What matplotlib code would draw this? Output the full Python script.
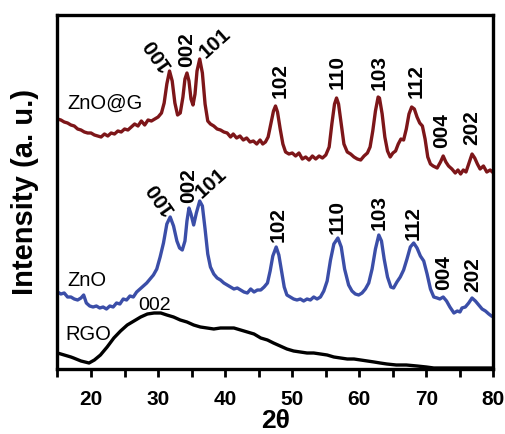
import numpy as np
from matplotlib import pyplot as plt

# 2theta positions and intensities (a.u.)
zng_x = [15.0, 15.5, 16.0, 16.5, 17.0, 17.5, 18.0, 18.5, 19.0, 19.5, 20.0, 20.5, 21.0, 21.5,
         22.0, 22.5, 23.0, 23.5, 24.0, 24.5, 25.0, 25.5, 26.0, 26.5, 27.0, 27.5, 28.0, 28.5,
         29.0, 29.5, 30.0, 30.5, 30.9, 31.3, 31.7, 32.1, 32.5, 32.9, 33.3, 33.7, 34.0, 34.3,
         34.6, 34.9, 35.2, 35.5, 35.8, 36.2, 36.6, 37.0, 37.4, 37.8, 38.3, 38.8, 39.3, 39.8,
         40.3, 40.8, 41.2, 41.7, 42.2, 42.7, 43.2, 43.7, 44.2, 44.7, 45.2, 45.6, 46.0, 46.4,
         46.8, 47.2, 47.5, 47.8, 48.2, 48.6, 49.0, 49.5, 50.0, 50.5, 51.0, 51.5, 52.0, 52.5,
         53.0, 53.5, 54.0, 54.5, 55.0, 55.5, 55.9, 56.3, 56.6, 56.9, 57.3, 57.7, 58.2, 58.7,
         59.2, 59.7, 60.2, 60.7, 61.2, 61.6, 62.0, 62.4, 62.8, 63.0, 63.4, 63.8, 64.2, 64.6,
         65.0, 65.4, 65.8, 66.2, 66.6, 67.0, 67.4, 67.8, 68.2, 68.6, 69.0, 69.4, 69.8, 70.2,
         70.6, 71.0, 71.6, 72.1, 72.5, 72.9, 73.3, 73.8, 74.3, 74.7, 75.1, 75.5, 75.9, 76.3,
         76.8, 77.2, 77.6, 78.0, 78.5, 79.0, 79.5, 80.0]
zng_y = [250, 249, 247, 246, 244, 243, 240, 239, 237, 236, 236, 234, 233, 232,
         235, 233, 236, 235, 238, 237, 240, 239, 242, 245, 243, 248, 244, 249,
         248, 250, 252, 256, 266, 285, 298, 288, 266, 254, 256, 272, 290, 296,
         288, 270, 264, 275, 298, 310, 296, 265, 248, 245, 243, 240, 239, 237,
         236, 232, 235, 231, 233, 229, 231, 227, 228, 225, 229, 225, 227, 232,
         245, 258, 263, 257, 240, 225, 217, 215, 216, 213, 216, 210, 212, 209,
         213, 210, 213, 211, 214, 222, 245, 265, 271, 265, 245, 225, 217, 215,
         212, 210, 209, 213, 216, 222, 238, 258, 272, 271, 255, 232, 218, 212,
         216, 218, 225, 230, 229, 240, 255, 262, 260, 252, 246, 243, 230, 212,
         205, 203, 201, 207, 213, 207, 203, 200, 196, 199, 195, 199, 197, 205,
         215, 211, 205, 200, 203, 197, 199, 196]

zno_x = [15.0, 15.5, 16.0, 16.5, 17.0, 17.5, 18.0, 18.5, 18.9, 19.3, 19.8, 20.3, 20.8, 21.3,
         21.8, 22.3, 22.8, 23.3, 23.8, 24.3, 24.8, 25.3, 25.8, 26.3, 26.8, 27.3, 27.8, 28.3,
         28.8, 29.3, 29.8, 30.3, 30.8, 31.3, 31.8, 32.3, 32.8, 33.2, 33.6, 34.0, 34.3, 34.6,
         34.9, 35.3, 35.7, 36.2, 36.6, 37.0, 37.4, 37.8, 38.3, 38.8, 39.3, 39.8, 40.3, 40.8,
         41.3, 41.8, 42.3, 42.8, 43.3, 43.8, 44.3, 44.8, 45.3, 45.8, 46.3, 46.7, 47.1, 47.6,
         48.0, 48.4, 48.8, 49.2, 49.7, 50.2, 50.7, 51.2, 51.7, 52.2, 52.7, 53.2, 53.7, 54.2,
         54.7, 55.2, 55.7, 56.2, 56.8, 57.3, 57.8, 58.4, 58.9, 59.4, 59.9, 60.4, 60.9, 61.4,
         61.9, 62.4, 62.9, 63.3, 63.7, 64.2, 64.7, 65.1, 65.6, 66.1, 66.6, 67.1, 67.6, 68.1,
         68.6, 69.1, 69.6, 70.1, 70.6, 71.1, 71.6, 72.0, 72.5, 73.0, 73.5, 74.1, 74.6, 75.0,
         75.3, 75.8, 76.3, 76.8, 77.3, 77.8, 78.3, 78.8, 79.3, 79.7, 80.0]
zno_y = [77, 75, 76, 72, 72, 70, 69, 71, 74, 66, 63, 62, 63, 61,
         62, 60, 63, 62, 66, 65, 70, 69, 73, 72, 77, 80, 83, 86,
         90, 94, 100, 112, 126, 145, 152, 143, 128, 121, 119, 128, 148, 161,
         155, 144, 156, 168, 163, 140, 115, 102, 95, 91, 89, 86, 84, 82,
         80, 81, 79, 77, 76, 80, 77, 79, 79, 82, 86, 98, 113, 122,
         114, 98, 82, 74, 72, 70, 69, 70, 68, 70, 69, 72, 70, 72,
         78, 88, 109, 125, 131, 122, 100, 84, 78, 75, 74, 76, 80, 86,
         100, 120, 134, 128, 110, 92, 82, 81, 87, 92, 99, 110, 122, 126,
         121, 113, 108, 95, 80, 72, 71, 70, 72, 68, 62, 56, 58, 57,
         61, 62, 66, 71, 68, 64, 60, 58, 55, 53, 52]

rgo_x = [15.0, 16.0, 17.0, 17.4, 18.5, 19.7, 20.5, 21.4, 22.4, 23.4, 24.4, 25.4, 26.4, 27.4,
         28.4, 29.4, 30.4, 31.3, 32.3, 33.3, 34.3, 35.3, 36.3, 37.3, 38.3, 39.3, 40.3, 41.3,
         42.3, 43.3, 44.3, 45.3, 46.3, 47.2, 48.2, 49.2, 50.2, 51.2, 52.2, 53.2, 54.2, 55.2,
         56.2, 57.2, 58.2, 59.2, 60.2, 61.2, 62.2, 63.1, 64.1, 65.5, 67.0, 68.6, 70.0, 71.1,
         72.5, 73.6, 75.0, 76.5, 78.0, 80.0]
rgo_y = [16, 14, 12, 11, 8, 6, 9, 14, 22, 31, 38, 44, 48, 52,
         55, 56, 56, 54, 52, 49, 47, 44, 42, 41, 40, 41, 41, 41,
         39, 37, 35, 31, 29, 26, 23, 20, 18, 17, 16, 16, 15, 14,
         12, 11, 10, 10, 9, 8, 7, 6, 5, 4, 4, 3, 2, 1,
         1, 1, 1, 1, 1, 1]

# peak labels: (text, 2theta, height, rotation)
zng_peaks = [('100', 29.8, 315, 125), ('002', 34.2, 319, 90), ('101', 38.5, 326, 42),
             ('102', 48.2, 289, 90), ('110', 56.7, 297, 90), ('103', 62.9, 297, 90),
             ('112', 68.4, 288, 90), ('004', 72.3, 238, 90), ('202', 76.8, 241, 90)]
zno_peaks = [('100', 30.3, 171, 125), ('002', 34.5, 183, 90), ('101', 37.9, 186, 42),
             ('102', 47.9, 144, 90), ('110', 56.7, 152, 90), ('103', 62.9, 156, 90),
             ('112', 68.0, 146, 90), ('004', 72.6, 96, 90), ('202', 76.9, 94, 90)]

plt.rcParams['font.family'] = ['Liberation Sans', 'DejaVu Sans']

fig = plt.figure(figsize=(5.06, 4.34), dpi=100)
ax = fig.add_axes([57.5 / 506, 1 - 369 / 434, 436 / 506, 354 / 434])

ax.plot(rgo_x, rgo_y, color='black', lw=2.4)
ax.plot(zno_x, zno_y, color='#3b4ea8', lw=2.4)
ax.plot(zng_x, zng_y, color='#7d1619', lw=2.4)

for txt, x, y, rot in zng_peaks + zno_peaks:
    ax.text(x, y, txt, rotation=rot, rotation_mode='anchor', ha='center', va='center',
            fontsize=15, fontweight='bold')

ax.text(16.4, 266, 'ZnO@G', ha='left', va='center', fontsize=14.5)
ax.text(16.4, 88, 'ZnO', ha='left', va='center', fontsize=14.5)
ax.text(16.1, 34, 'RGO', ha='left', va='center', fontsize=14.5)
ax.text(29.5, 63, '002', ha='center', va='center', fontsize=14)

ax.set_xlim(15, 80)
ax.set_ylim(0, 354)
ax.set_xticks([20, 30, 40, 50, 60, 70, 80])
ax.set_xticks([15, 25, 35, 45, 55, 65, 75], minor=True)
ax.set_yticks([])
ax.tick_params(axis='x', which='both', direction='out', length=6, width=2, pad=9,
               labelsize=15)
for lab in ax.get_xticklabels():
    lab.set_fontweight('bold')
for sp in ax.spines.values():
    sp.set_linewidth(2.4)

ax.set_xlabel('2θ', fontsize=19, fontweight='bold', labelpad=0)
ax.set_ylabel('Intensity (a. u.)', fontsize=21, fontweight='bold', labelpad=13)

fig.savefig('out.png', dpi=100)
